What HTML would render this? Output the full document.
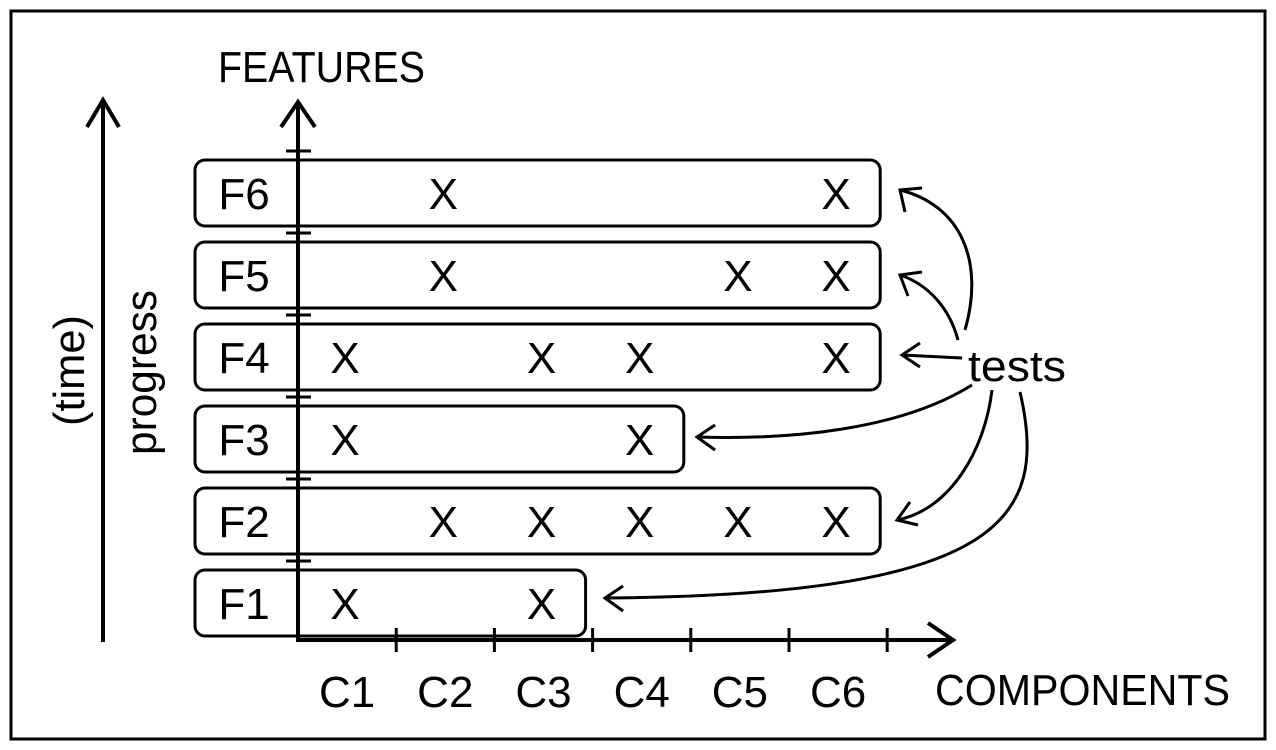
<!DOCTYPE html>
<html><head><meta charset="utf-8"><style>
html,body{margin:0;padding:0;background:#fff;}
svg{display:block;font-family:"Liberation Sans",sans-serif;}
</style></head><body>
<svg id="chart" width="1276" height="750" viewBox="0 0 1276 750" xmlns="http://www.w3.org/2000/svg">
<rect x="11" y="11" width="1254" height="728" fill="none" stroke="#000" stroke-width="3"/>
<g id="axes" stroke="#000" stroke-width="4" fill="none" stroke-linecap="butt">
  <line x1="298" y1="642" x2="298" y2="102"/>
  <polyline points="281,127 298,102 315,127"/>
  <line x1="296" y1="640" x2="953" y2="640"/>
  <polyline points="928,623 953,640 928,657"/>
  <line x1="103" y1="642" x2="103" y2="100"/>
  <polyline points="87,127 103,100 119,127"/>
</g>
<text x="218" y="82" font-size="44" textLength="207" lengthAdjust="spacingAndGlyphs">FEATURES</text>
<text x="935" y="705" font-size="44" textLength="295" lengthAdjust="spacingAndGlyphs">COMPONENTS</text>
<text transform="translate(156,455) rotate(-90)" font-size="44" textLength="165" lengthAdjust="spacingAndGlyphs">progress</text>
<text transform="translate(84,426) rotate(-90)" font-size="44" textLength="111" lengthAdjust="spacingAndGlyphs">(time)</text>
<text x="968" y="381" font-size="44" textLength="98" lengthAdjust="spacingAndGlyphs">tests</text>
<g id="marks"></g>
<g stroke="#000" stroke-width="3" fill="none">
  <path d="M965,330 C985,260 960,205 900,190"/>
  <polyline points="905,212 900,190 922,188"/>
  <path d="M958,340 C950,310 930,285 900,275"/>
  <polyline points="908,296 900,275 922,272"/>
  <path d="M962,358 L902,355"/>
  <polyline points="920,343 902,355 920,367"/>
  <path d="M972,385 C900,430 790,440 697,437"/>
  <polyline points="715,425 697,437 715,450"/>
  <path d="M992,390 C985,450 950,510 897,520"/>
  <polyline points="910,502 897,520 918,525"/>
  <path d="M1020,392 C1050,520 1000,595 605,598"/>
  <polyline points="623,586 605,598 623,611"/>
</g>
</svg>
<script>
const features = ["F1","F2","F3","F4","F5","F6"];
const components = ["C1","C2","C3","C4","C5","C6"];
const featureLastComponent = [3, 6, 4, 6, 6, 6];
const featureMarks = [
  ["C1","C3"],
  ["C2","C3","C4","C5","C6"],
  ["C1","C4"],
  ["C1","C3","C4","C6"],
  ["C2","C5","C6"],
  ["C2","C6"]
];
const NS = "http://www.w3.org/2000/svg";
const g = document.getElementById("marks");
const x0 = 298, colW = 98.2, rowBase = 603, rowH = 82;
function xCol(i){ return x0 + colW*i; }
function xCenter(i){ return x0 + colW*(i+0.5); }
function yRow(i){ return rowBase - rowH*i; }
function mk(tag, attrs){ const e=document.createElementNS(NS,tag); for(const k in attrs) e.setAttribute(k,attrs[k]); g.appendChild(e); return e; }
components.forEach((c,i)=>{
  const t = mk("line",{x1:xCol(i+1),y1:628,x2:xCol(i+1),y2:652,stroke:"#000","stroke-width":3});
  
  
  const l = mk("text",{x:xCenter(i),y:707,"font-size":44,"text-anchor":"middle"});
  l.textContent = c;
  
  
});
features.forEach((f,i)=>{
  const cy = yRow(i);
  const r = mk("rect",{x:195,y:cy-33,width:xCol(featureLastComponent[i])-195-7,height:66,rx:10,fill:"none",stroke:"#000","stroke-width":3});
  
  
  const tk = mk("line",{x1:286,y1:cy-42,x2:311,y2:cy-42,stroke:"#000","stroke-width":3});
  
  
  const lb = mk("text",{x:244,y:cy+16,"font-size":44,"text-anchor":"middle"});
  lb.textContent = f;
  
  
  featureMarks[i].forEach(c=>{
    const ci = components.indexOf(c);
    const m = mk("text",{x:xCenter(ci)-2,y:cy+16,"font-size":44,"text-anchor":"middle"});
    m.textContent = "X";
    
    
  });
});
</script>
</body></html>
